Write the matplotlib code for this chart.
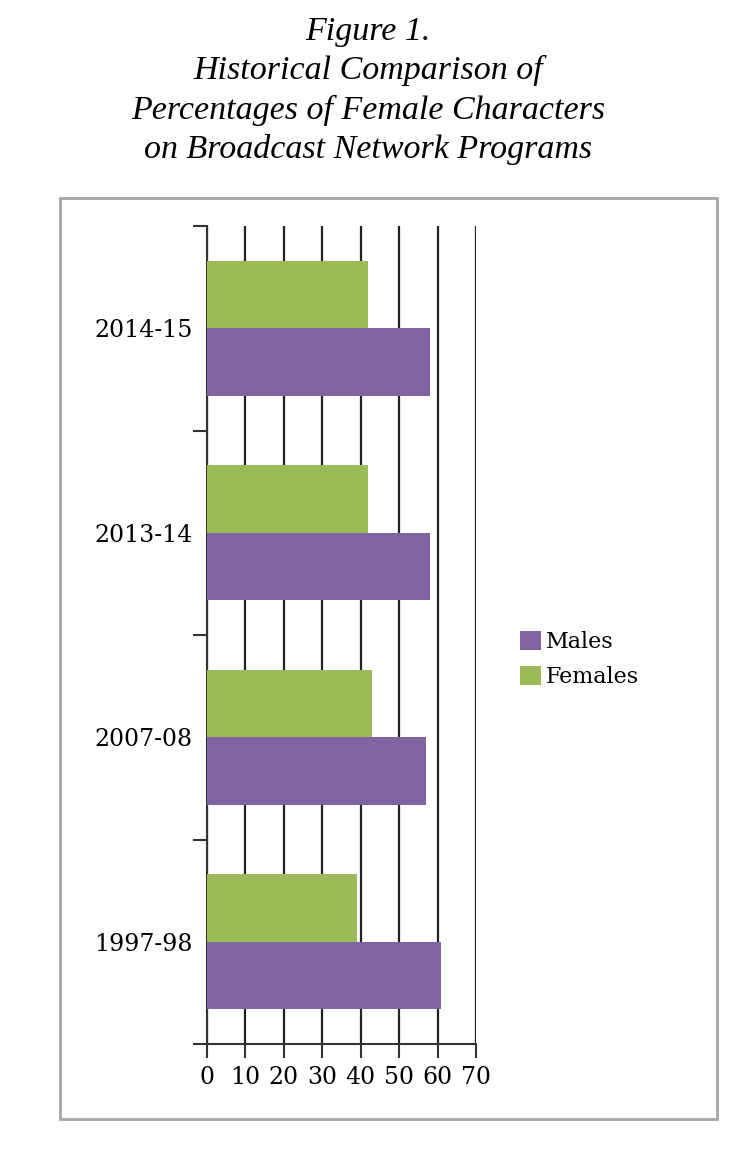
import numpy as np
import matplotlib.pyplot as plt
from matplotlib.patches import Rectangle

# Data
seasons = ['1997-98', '2007-08', '2013-14', '2014-15']
males = [61, 57, 58, 58]
females = [39, 43, 42, 42]
x_ticks = [0, 10, 20, 30, 40, 50, 60, 70]

# Styling
purple = '#8064A2'
green = '#9BBB59'
label_font = 'DejaVu Serif'
font_size = 17

fig = plt.figure(figsize=(7.36, 11.58), dpi=100)

# Title
fig.text(0.5, 0.986, 'Figure 1.\nHistorical Comparison of\nPercentages of Female Characters\non Broadcast Network Programs',
         ha='center', va='top', family='Liberation Serif', style='italic',
         size=24.5, linespacing=1.35)

# Outer frame around the chart area
fig.patches.append(Rectangle((60 / 736, 1 - 1119 / 1158), 657 / 736, 921 / 1158,
                             transform=fig.transFigure, fill=False,
                             edgecolor='#a6a6a6', linewidth=2))

ax = fig.add_axes([206.7 / 736, 1 - 1044 / 1158, 269.3 / 736, 818 / 1158])

y = np.arange(len(seasons)) + 0.5
bar_h = 0.33
ax.barh(y - bar_h / 2, males, height=bar_h, color=purple, label='Males', zorder=3)
ax.barh(y + bar_h / 2, females, height=bar_h, color=green, label='Females', zorder=3)

ax.set_xlim(0, 70)
ax.set_ylim(0, 4)
ax.set_xticks(x_ticks)
ax.set_xticklabels([str(t) for t in x_ticks], family=label_font, size=font_size)
ax.set_yticks(np.arange(5))
ax.set_yticklabels([])
ax.set_yticks(y, minor=True)
ax.set_yticklabels(seasons, minor=True, family=label_font, size=font_size)
ax.tick_params(axis='y', which='minor', length=0, pad=10)
ax.tick_params(axis='y', which='major', length=10, width=1.5, color='#333333')
ax.tick_params(axis='x', length=10, width=1.5, color='#333333', pad=6)

ax.grid(axis='x', color='#222222', linewidth=1.6, zorder=0)
for side in ['top', 'right']:
    ax.spines[side].set_visible(False)
for side in ['left', 'bottom']:
    ax.spines[side].set_color('#333333')
    ax.spines[side].set_linewidth(1.5)

ax.legend(loc='center left', bbox_to_anchor=(1.09, 0.470), frameon=False,
          prop={'family': label_font, 'size': 16},
          handlelength=0.95, handleheight=0.95, handletextpad=0.2, labelspacing=0.6)

fig.savefig('out.png', dpi=100)
